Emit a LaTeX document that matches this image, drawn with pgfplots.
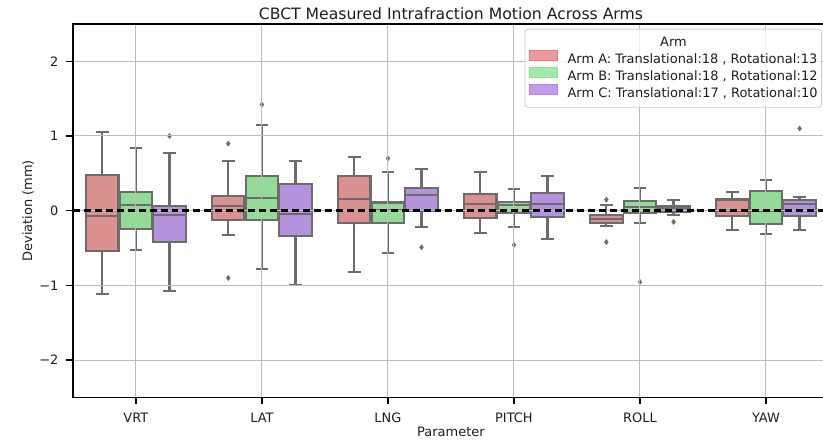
\documentclass[border=0pt]{standalone}
\usepackage{pgfplots}
\pgfplotsset{compat=1.18}
\usepgfplotslibrary{statistics}
\usepackage{fontspec}
\setmainfont{DejaVu Sans}
\definecolor{boxA}{RGB}{220,145,145}
\definecolor{boxB}{RGB}{147,220,152}
\definecolor{boxC}{RGB}{180,146,222}
\definecolor{legA}{RGB}{232,128,128}
\definecolor{legB}{RGB}{138,228,148}
\definecolor{legC}{RGB}{178,132,230}
\definecolor{edge}{RGB}{108,108,108}
\definecolor{gridc}{RGB}{188,188,188}
\definecolor{txt}{RGB}{30,30,30}
\newcommand\bplot[8]{%
\addplot[forget plot, boxplot prepared={draw position=#1, lower whisker=#3, lower quartile=#4, median=#5, upper quartile=#6, upper whisker=#7, box extend=0.258, whisker extend=0.1}, boxplot/draw direction=y, fill=#2, draw=edge, line width=2.2bp, mark=diamond*, mark size=2.6bp, mark options={fill=edge, draw=edge, line width=0.4bp}] coordinates {#8};}
\newlength\legw
\begin{document}
\settowidth{\legw}{\fontsize{13bp}{15bp}\selectfont Arm A: Translational:18 , Rotational:13}
\begin{tikzpicture}
\begin{axis}[
  scale only axis, width=759bp, height=375bp,
  xmin=-0.5, xmax=5.5, ymin=-2.5, ymax=2.5,
  set layers, axis on top,
  xtick={0,1,2,3,4,5},
  xticklabels={VRT,LAT,LNG,PITCH,ROLL,YAW},
  ytick={-2,-1,0,1,2},
  yticklabels={−2,−1,0,1,2},
  /pgf/number format/assume math mode=true,
  xtick pos=bottom, ytick pos=left,
  tick align=outside, major tick length=7bp,
  tick style={line width=1.5bp, black},
  axis line style={line width=1.8bp, black},
  grid=major,
  major grid style={draw=gridc, line width=1bp},
  tick label style={font=\fontsize{13bp}{15bp}\selectfont, text=txt},
  xticklabel style={yshift=-5bp},
  yticklabel style={xshift=-4bp},
  xlabel={Parameter}, ylabel={Deviation (mm)},
  every axis x label/.style={at={(axis description cs:0.5,0)}, anchor=center, yshift=-35bp, font=\fontsize{13bp}{15bp}\selectfont, text=txt},
  every axis y label/.style={at={(axis description cs:0,0.5)}, rotate=90, anchor=center, yshift=45bp, font=\fontsize{13bp}{15bp}\selectfont, text=txt},
  title={CBCT Measured Intrafraction Motion Across Arms},
  every axis title/.style={at={(axis description cs:0.5,1)}, anchor=base, yshift=4bp, font=\fontsize{15.7bp}{18bp}\selectfont, text=txt},
  legend cell align=left,
  legend style={at={(rel axis cs:1,1)}, anchor=north east, xshift=-7bp, yshift=-5bp,
    draw={rgb,255:red,204;green,204;blue,204}, line width=0.8bp, rounded corners=3bp,
    fill=white, fill opacity=0.8, text opacity=1, draw opacity=1,
    inner xsep=4bp, inner ysep=8bp, row sep=1.5bp,
    font=\fontsize{13bp}{15bp}\selectfont, text=txt,
    nodes={inner sep=0pt},
    /tikz/every odd column/.append style={column sep=10bp}},
]
\addlegendimage{empty legend}
\addlegendentry{\hspace*{-19bp}\makebox[\legw][c]{Arm}}
\addlegendimage{legend image code/.code={\fill[legA, sharp corners] (0bp,-0.5bp) rectangle (28bp,9.5bp);}}
\addlegendentry{Arm A: Translational:18 , Rotational:13}
\addlegendimage{legend image code/.code={\fill[legB, sharp corners] (0bp,-0.5bp) rectangle (28bp,9.5bp);}}
\addlegendentry{Arm B: Translational:18 , Rotational:12}
\addlegendimage{legend image code/.code={\fill[legC, sharp corners] (0bp,-0.5bp) rectangle (28bp,9.5bp);}}
\addlegendentry{Arm C: Translational:17 , Rotational:10}
% VRT
\bplot{-0.2667}{boxA}{-1.11}{-0.54}{-0.066}{0.48}{1.057}{}
\bplot{0}{boxB}{-0.53}{-0.24}{0.072}{0.249}{0.835}{}
\bplot{0.2667}{boxC}{-1.07}{-0.42}{-0.06}{0.063}{0.77}{(0.2667,1.0)}
% LAT
\bplot{0.7333}{boxA}{-0.33}{-0.12}{0.067}{0.196}{0.666}{(0.7333,0.897) (0.7333,-0.90)}
\bplot{1}{boxB}{-0.78}{-0.13}{0.173}{0.462}{1.15}{(1,1.42)}
\bplot{1.2667}{boxC}{-0.99}{-0.34}{-0.044}{0.355}{0.666}{}
% LNG
\bplot{1.7333}{boxA}{-0.825}{-0.168}{0.156}{0.466}{0.72}{}
\bplot{2}{boxB}{-0.568}{-0.168}{0.014}{0.11}{0.52}{(2,0.70)}
\bplot{2.2667}{boxC}{-0.22}{0.0}{0.205}{0.302}{0.555}{(2.2667,-0.49)}
% PITCH
\bplot{2.7333}{boxA}{-0.30}{-0.093}{0.085}{0.222}{0.52}{}
\bplot{3}{boxB}{-0.22}{-0.035}{0.076}{0.116}{0.285}{(3,-0.457)}
\bplot{3.2667}{boxC}{-0.377}{-0.08}{0.085}{0.24}{0.462}{}
% ROLL
\bplot{3.7333}{boxA}{-0.2}{-0.16}{-0.107}{-0.053}{0.071}{(3.7333,0.147) (3.7333,-0.42)}
\bplot{4}{boxB}{-0.168}{-0.035}{0.053}{0.129}{0.302}{(4,-0.954)}
\bplot{4.2667}{boxC}{-0.053}{-0.022}{0.031}{0.063}{0.147}{(4.2667,-0.15)}
% YAW
\bplot{4.7333}{boxA}{-0.26}{-0.07}{-0.008}{0.151}{0.249}{}
\bplot{5}{boxB}{-0.315}{-0.177}{-0.004}{0.266}{0.413}{}
\bplot{5.2667}{boxC}{-0.26}{-0.066}{0.085}{0.147}{0.186}{(5.2667,1.10)}
% zero line
\addplot[forget plot, on layer=axis foreground, black, line width=2.6bp, dash pattern=on 7bp off 4bp] coordinates {(-0.5,0) (5.5,0)};
\end{axis}
\pgfresetboundingbox
\path[use as bounding box] ([xshift=-70bp,yshift=-43bp]current axis.south west) rectangle ([xshift=-6bp,yshift=24bp]current axis.north east);
\end{tikzpicture}
\end{document}
